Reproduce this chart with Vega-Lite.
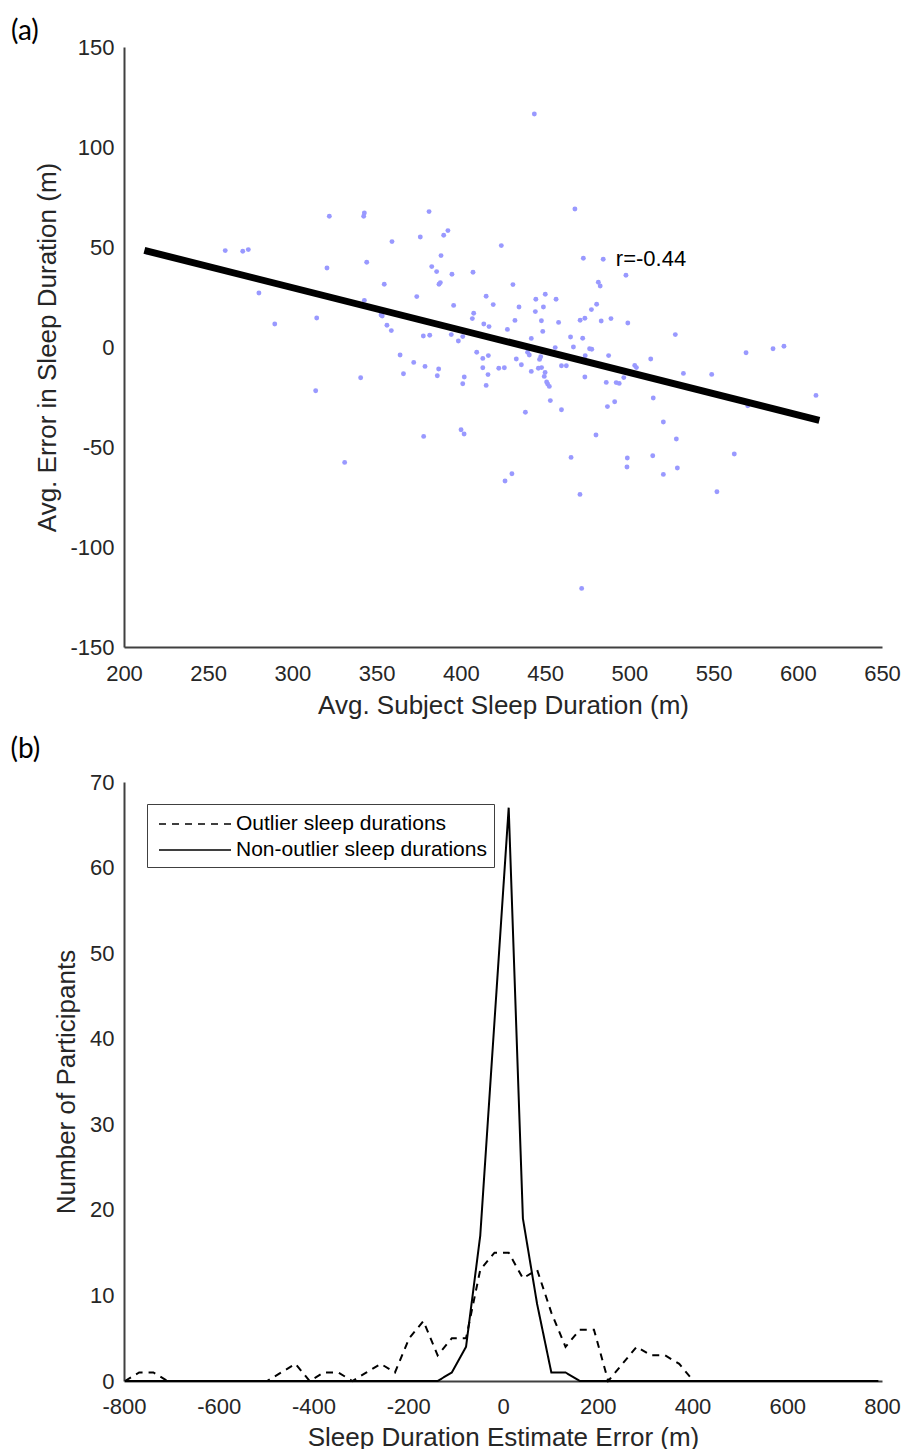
{
  "$schema": "https://vega.github.io/schema/vega-lite/v6.json",
  "autosize": {"type": "pad"},
  "padding": {"left": 10, "top": 18, "right": 2, "bottom": 0},
  "background": "white",
  "spacing": 18,
  "resolve": {"legend": {"strokeDash": "independent"}},
  "config": {
    "font": "Liberation Sans",
    "view": {"stroke": null},
    "axis": {
      "domainColor": "#404040", "domainWidth": 2, "ticks": false, "grid": false,
      "labelFont": "Liberation Sans", "labelFontSize": 22, "labelColor": "#262626",
      "labelFlush": false, "labelOverlap": false,
      "titleFont": "Liberation Sans", "titleFontSize": 26, "titleFontWeight": "normal", "titleColor": "#262626",
      "labelPadding": 10
    },
    "title": {"font": "Lato", "fontSize": 28, "fontWeight": "normal", "anchor": "start", "color": "#000000"}
  },
  "vconcat": [
    {
      "title": {"text": "(a)", "frame": "bounds", "anchor": "start", "dx": -24, "offset": -10},
      "width": 758,
      "height": 600,
      "layer": [
        {
          "data": {"values": [
            {"d":213.7,"e":47.4},{"d":260.1,"e":48.2},{"d":270.5,"e":47.9},{"d":273.8,"e":48.7},{"d":280.1,"e":27.0},
            {"d":289.5,"e":11.5},{"d":314.4,"e":14.5},{"d":313.8,"e":-21.9},{"d":320.5,"e":39.5},{"d":321.9,"e":65.4},
            {"d":331.0,"e":-57.7},{"d":340.5,"e":-15.4},{"d":342.3,"e":65.4},{"d":342.7,"e":67.0},{"d":342.7,"e":23.3},
            {"d":344.1,"e":42.4},{"d":352.6,"e":16.0},{"d":353.3,"e":15.5},{"d":354.5,"e":31.4},{"d":356.1,"e":10.9},
            {"d":358.7,"e":8.2},{"d":359.1,"e":52.7},{"d":363.9,"e":-4.0},{"d":365.9,"e":-13.4},{"d":372.0,"e":-7.7},
            {"d":373.8,"e":25.2},{"d":375.9,"e":55.0},{"d":377.7,"e":5.5},{"d":377.9,"e":-44.7},{"d":378.7,"e":-9.7},
            {"d":381.1,"e":67.7},{"d":381.5,"e":5.9},{"d":382.7,"e":40.2},{"d":385.6,"e":37.7},{"d":386.8,"e":-11.0},
            {"d":386.0,"e":-14.4},{"d":387.0,"e":31.4},{"d":387.8,"e":32.2},{"d":388.2,"e":45.7},{"d":389.8,"e":55.9},
            {"d":392.3,"e":58.2},{"d":394.3,"e":6.2},{"d":394.7,"e":36.4},{"d":395.7,"e":20.8},{"d":398.5,"e":3.0},
            {"d":400.1,"e":-41.4},{"d":401.9,"e":-43.5},{"d":401.1,"e":5.2},{"d":402.0,"e":-15.0},{"d":401.1,"e":-18.4},
            {"d":406.8,"e":14.2},{"d":407.6,"e":16.9},{"d":407.2,"e":37.4},{"d":409.4,"e":-2.6},{"d":413.0,"e":-5.7},
            {"d":413.0,"e":-10.4},{"d":413.6,"e":11.5},{"d":415.0,"e":25.4},{"d":415.0,"e":-19.2},{"d":416.3,"e":-4.3},
            {"d":416.1,"e":-13.8},{"d":416.7,"e":10.2},{"d":419.2,"e":21.2},{"d":422.5,"e":-10.6},{"d":424.0,"e":50.7},
            {"d":425.8,"e":-10.4},{"d":426.2,"e":-67.0},{"d":427.6,"e":8.8},{"d":430.3,"e":-63.4},{"d":430.9,"e":31.2},
            {"d":432.1,"e":13.3},{"d":432.9,"e":-6.0},{"d":434.5,"e":20.0},{"d":435.9,"e":-8.9},{"d":438.3,"e":-32.6},
            {"d":439.6,"e":-2.6},{"d":440.6,"e":-4.0},{"d":441.8,"e":4.3},{"d":441.8,"e":-12.2},{"d":443.6,"e":116.5},
            {"d":444.2,"e":17.7},{"d":444.5,"e":23.9},{"d":446.0,"e":-10.6},{"d":446.7,"e":-6.2},{"d":447.4,"e":-4.9},
            {"d":447.9,"e":-10.3},{"d":447.8,"e":13.1},{"d":448.6,"e":7.8},{"d":449.0,"e":20.0},{"d":450.0,"e":-12.7},
            {"d":449.5,"e":-14.7},{"d":450.1,"e":26.4},{"d":450.9,"e":-17.5},{"d":451.5,"e":-18.5},{"d":452.5,"e":-19.7},
            {"d":453.1,"e":-26.8},{"d":456.0,"e":-0.3},{"d":456.5,"e":23.9},{"d":458.0,"e":12.3},{"d":459.7,"e":-9.4},
            {"d":462.6,"e":-9.4},{"d":459.7,"e":-31.4},{"d":465.1,"e":5.0},{"d":465.4,"e":-55.2},{"d":466.8,"e":0.0},
            {"d":467.7,"e":69.0},{"d":470.8,"e":13.4},{"d":470.7,"e":-73.7},{"d":471.7,"e":-120.7},{"d":472.3,"e":4.4},
            {"d":472.7,"e":44.4},{"d":473.6,"e":14.4},{"d":473.8,"e":-4.4},{"d":473.6,"e":-15.0},{"d":476.4,"e":-0.9},
            {"d":477.7,"e":-1.1},{"d":477.5,"e":18.7},{"d":480.6,"e":21.4},{"d":480.2,"e":-44.0},{"d":481.6,"e":32.4},
            {"d":482.7,"e":30.5},{"d":483.3,"e":13.0},{"d":484.5,"e":43.9},{"d":486.3,"e":-17.7},{"d":487.0,"e":-29.8},
            {"d":487.7,"e":-4.3},{"d":489.1,"e":14.2},{"d":491.3,"e":-27.4},{"d":492.2,"e":-17.8},{"d":494.0,"e":-18.2},
            {"d":496.7,"e":-15.3},{"d":498.0,"e":35.9},{"d":499.1,"e":12.0},{"d":498.8,"e":-55.5},{"d":498.6,"e":-60.0},
            {"d":503.2,"e":-9.2},{"d":504.2,"e":-10.3},{"d":512.7,"e":-6.0},{"d":513.9,"e":-54.4},{"d":514.2,"e":-25.5},
            {"d":520.2,"e":-37.5},{"d":520.2,"e":-63.7},{"d":527.3,"e":6.2},{"d":527.9,"e":-46.0},{"d":528.5,"e":-60.5},
            {"d":532.1,"e":-13.2},{"d":548.9,"e":-13.7},{"d":552.0,"e":-72.4},{"d":562.3,"e":-53.5},{"d":569.3,"e":-2.9},
            {"d":570.3,"e":-29.4},{"d":585.3,"e":-0.9},{"d":591.8,"e":0.4},{"d":610.8,"e":-24.2}
          ]},
          "mark": {"type": "circle", "size": 24, "color": "#9999ff", "opacity": 1},
          "encoding": {
            "x": {"field": "d", "type": "quantitative",
              "scale": {"domain": [200, 650], "nice": false},
              "axis": {"values": [200,250,300,350,400,450,500,550,600,650], "labelExpr": "'' + datum.value", "title": "Avg. Subject Sleep Duration (m)", "labelPadding": 16, "titlePadding": 8}},
            "y": {"field": "e", "type": "quantitative",
              "scale": {"domain": [-150, 150], "nice": false},
              "axis": {"values": [-150,-100,-50,0,50,100,150], "labelExpr": "'' + datum.value", "title": "Avg. Error in Sleep Duration (m)", "titlePadding": 9}}
          }
        },
        {
          "data": {"values": [{"d": 212.1, "e": 48.3}, {"d": 612.8, "e": -36.7}]},
          "mark": {"type": "line", "color": "#000000", "strokeWidth": 7, "strokeCap": "butt"},
          "encoding": {
            "x": {"field": "d", "type": "quantitative"},
            "y": {"field": "e", "type": "quantitative"}
          }
        },
        {
          "data": {"values": [{"d": 492, "e": 44, "label": "r=-0.44"}]},
          "mark": {"type": "text", "align": "left", "baseline": "middle", "fontSize": 22, "font": "Liberation Sans", "color": "#000000"},
          "encoding": {
            "x": {"field": "d", "type": "quantitative"},
            "y": {"field": "e", "type": "quantitative"},
            "text": {"field": "label"}
          }
        }
      ]
    },
    {
      "title": {"text": "(b)", "frame": "bounds", "anchor": "start", "dx": -43, "offset": 7},
      "width": 758,
      "height": 599,
      "data": {"values": [
        {"x":-798,"n":0,"s":"Outlier sleep durations"},{"x":-768,"n":1,"s":"Outlier sleep durations"},{"x":-738,"n":1,"s":"Outlier sleep durations"},{"x":-708,"n":0,"s":"Outlier sleep durations"},
        {"x":-678,"n":0,"s":"Outlier sleep durations"},{"x":-648,"n":0,"s":"Outlier sleep durations"},{"x":-618,"n":0,"s":"Outlier sleep durations"},{"x":-588,"n":0,"s":"Outlier sleep durations"},
        {"x":-558,"n":0,"s":"Outlier sleep durations"},{"x":-528,"n":0,"s":"Outlier sleep durations"},{"x":-498,"n":0,"s":"Outlier sleep durations"},{"x":-468,"n":1,"s":"Outlier sleep durations"},
        {"x":-438,"n":2,"s":"Outlier sleep durations"},{"x":-408,"n":0,"s":"Outlier sleep durations"},{"x":-378,"n":1,"s":"Outlier sleep durations"},{"x":-348,"n":1,"s":"Outlier sleep durations"},
        {"x":-318,"n":0,"s":"Outlier sleep durations"},{"x":-288,"n":1,"s":"Outlier sleep durations"},{"x":-258,"n":2,"s":"Outlier sleep durations"},{"x":-228,"n":1,"s":"Outlier sleep durations"},
        {"x":-198,"n":5,"s":"Outlier sleep durations"},{"x":-168,"n":7,"s":"Outlier sleep durations"},{"x":-138,"n":3,"s":"Outlier sleep durations"},{"x":-108,"n":5,"s":"Outlier sleep durations"},
        {"x":-78,"n":5,"s":"Outlier sleep durations"},{"x":-48,"n":13,"s":"Outlier sleep durations"},{"x":-18,"n":15,"s":"Outlier sleep durations"},{"x":12,"n":15,"s":"Outlier sleep durations"},
        {"x":42,"n":12,"s":"Outlier sleep durations"},{"x":72,"n":13,"s":"Outlier sleep durations"},{"x":102,"n":8,"s":"Outlier sleep durations"},{"x":132,"n":4,"s":"Outlier sleep durations"},
        {"x":162,"n":6,"s":"Outlier sleep durations"},{"x":192,"n":6,"s":"Outlier sleep durations"},{"x":222,"n":0,"s":"Outlier sleep durations"},{"x":252,"n":2,"s":"Outlier sleep durations"},
        {"x":282,"n":4,"s":"Outlier sleep durations"},{"x":312,"n":3,"s":"Outlier sleep durations"},{"x":342,"n":3,"s":"Outlier sleep durations"},{"x":372,"n":2,"s":"Outlier sleep durations"},
        {"x":402,"n":0,"s":"Outlier sleep durations"},{"x":432,"n":0,"s":"Outlier sleep durations"},{"x":462,"n":0,"s":"Outlier sleep durations"},{"x":492,"n":0,"s":"Outlier sleep durations"},
        {"x":522,"n":0,"s":"Outlier sleep durations"},{"x":552,"n":0,"s":"Outlier sleep durations"},{"x":582,"n":0,"s":"Outlier sleep durations"},{"x":612,"n":0,"s":"Outlier sleep durations"},
        {"x":642,"n":0,"s":"Outlier sleep durations"},{"x":672,"n":0,"s":"Outlier sleep durations"},{"x":702,"n":0,"s":"Outlier sleep durations"},{"x":732,"n":0,"s":"Outlier sleep durations"},
        {"x":762,"n":0,"s":"Outlier sleep durations"},{"x":792,"n":0,"s":"Outlier sleep durations"},
        {"x":-798,"n":0,"s":"Non-outlier sleep durations"},{"x":-768,"n":0,"s":"Non-outlier sleep durations"},{"x":-738,"n":0,"s":"Non-outlier sleep durations"},{"x":-708,"n":0,"s":"Non-outlier sleep durations"},
        {"x":-678,"n":0,"s":"Non-outlier sleep durations"},{"x":-648,"n":0,"s":"Non-outlier sleep durations"},{"x":-618,"n":0,"s":"Non-outlier sleep durations"},{"x":-588,"n":0,"s":"Non-outlier sleep durations"},
        {"x":-558,"n":0,"s":"Non-outlier sleep durations"},{"x":-528,"n":0,"s":"Non-outlier sleep durations"},{"x":-498,"n":0,"s":"Non-outlier sleep durations"},{"x":-468,"n":0,"s":"Non-outlier sleep durations"},
        {"x":-438,"n":0,"s":"Non-outlier sleep durations"},{"x":-408,"n":0,"s":"Non-outlier sleep durations"},{"x":-378,"n":0,"s":"Non-outlier sleep durations"},{"x":-348,"n":0,"s":"Non-outlier sleep durations"},
        {"x":-318,"n":0,"s":"Non-outlier sleep durations"},{"x":-288,"n":0,"s":"Non-outlier sleep durations"},{"x":-258,"n":0,"s":"Non-outlier sleep durations"},{"x":-228,"n":0,"s":"Non-outlier sleep durations"},
        {"x":-198,"n":0,"s":"Non-outlier sleep durations"},{"x":-168,"n":0,"s":"Non-outlier sleep durations"},{"x":-138,"n":0,"s":"Non-outlier sleep durations"},{"x":-108,"n":1,"s":"Non-outlier sleep durations"},
        {"x":-78,"n":4,"s":"Non-outlier sleep durations"},{"x":-48,"n":17,"s":"Non-outlier sleep durations"},{"x":-18,"n":42,"s":"Non-outlier sleep durations"},{"x":12,"n":67,"s":"Non-outlier sleep durations"},
        {"x":42,"n":19,"s":"Non-outlier sleep durations"},{"x":72,"n":9,"s":"Non-outlier sleep durations"},{"x":102,"n":1,"s":"Non-outlier sleep durations"},{"x":132,"n":1,"s":"Non-outlier sleep durations"},
        {"x":162,"n":0,"s":"Non-outlier sleep durations"},{"x":192,"n":0,"s":"Non-outlier sleep durations"},{"x":222,"n":0,"s":"Non-outlier sleep durations"},{"x":252,"n":0,"s":"Non-outlier sleep durations"},
        {"x":282,"n":0,"s":"Non-outlier sleep durations"},{"x":312,"n":0,"s":"Non-outlier sleep durations"},{"x":342,"n":0,"s":"Non-outlier sleep durations"},{"x":372,"n":0,"s":"Non-outlier sleep durations"},
        {"x":402,"n":0,"s":"Non-outlier sleep durations"},{"x":432,"n":0,"s":"Non-outlier sleep durations"},{"x":462,"n":0,"s":"Non-outlier sleep durations"},{"x":492,"n":0,"s":"Non-outlier sleep durations"},
        {"x":522,"n":0,"s":"Non-outlier sleep durations"},{"x":552,"n":0,"s":"Non-outlier sleep durations"},{"x":582,"n":0,"s":"Non-outlier sleep durations"},{"x":612,"n":0,"s":"Non-outlier sleep durations"},
        {"x":642,"n":0,"s":"Non-outlier sleep durations"},{"x":672,"n":0,"s":"Non-outlier sleep durations"},{"x":702,"n":0,"s":"Non-outlier sleep durations"},{"x":732,"n":0,"s":"Non-outlier sleep durations"},
        {"x":762,"n":0,"s":"Non-outlier sleep durations"},{"x":792,"n":0,"s":"Non-outlier sleep durations"}
      ]},
      "mark": {"type": "line", "color": "#000000", "strokeWidth": 2},
      "encoding": {
        "x": {"field": "x", "type": "quantitative",
          "scale": {"domain": [-800, 800], "nice": false},
          "axis": {"values": [-800,-600,-400,-200,0,200,400,600,800], "labelExpr": "'' + datum.value", "title": "Sleep Duration Estimate Error (m)", "labelPadding": 15, "titlePadding": 7}},
        "y": {"field": "n", "type": "quantitative",
          "scale": {"domain": [0, 70], "nice": false},
          "axis": {"values": [0,10,20,30,40,50,60,70], "labelExpr": "'' + datum.value", "title": "Number of Participants", "titlePadding": 10}},
        "strokeDash": {"field": "s", "type": "nominal",
          "scale": {"domain": ["Outlier sleep durations", "Non-outlier sleep durations"], "range": [[7, 6], [1, 0]]},
          "legend": {
            "title": null, "orient": "none", "legendX": 23, "legendY": 22, "direction": "vertical",
            "fillColor": "#ffffff", "strokeColor": "#404040", "padding": 7,
            "symbolType": "M-3,0H3", "symbolSize": 576, "symbolOffset": 28, "symbolStrokeWidth": 1.6, "symbolStrokeColor": "#000000",
            "labelFont": "Liberation Sans", "labelFontSize": 21, "labelColor": "#000000", "labelOffset": 28, "labelLimit": 400,
            "rowPadding": 3
          }}
      }
    }
  ]
}
